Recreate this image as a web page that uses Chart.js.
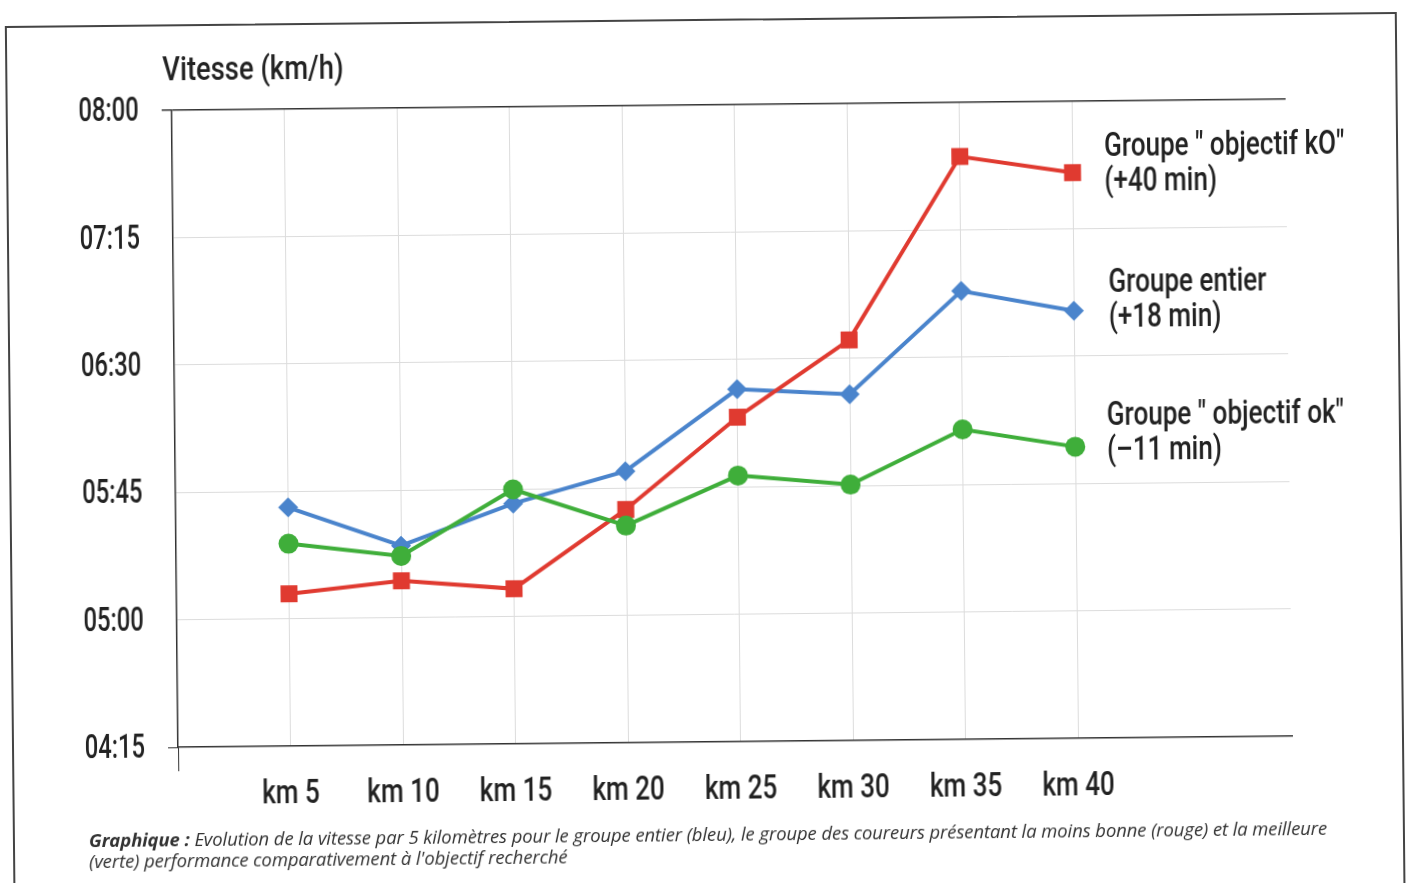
<!DOCTYPE html>
<html>
<head>
<meta charset="utf-8">
<script src="https://cdn.jsdelivr.net/npm/chart.js@4.4.1/dist/chart.umd.min.js"></script>
<style>
  html, body { margin: 0; padding: 0; background: #fff; overflow: hidden; }
  #page {
    position: absolute; left: 0; top: 0; width: 1406px; height: 883px;
    transform: rotate(-0.57deg); transform-origin: 703px 441px;
  }
  #frame {
    position: absolute; left: 9px; top: 19px; width: 1388px; height: 1000px;
    border: 2px solid #444;
  }
  canvas { position: absolute; left: 0; top: 0; }
  .txt {
    position: absolute; color: #222; white-space: nowrap;
    font-family: Roboto, sans-serif; font-weight: 500;
    font-size: 33px; line-height: 35px;
    transform: scaleX(0.79); transform-origin: 0 0;
  }
  #caption {
    position: absolute; left: 85px; top: 823px; color: #333; white-space: nowrap;
    font-family: 'Open Sans', sans-serif; font-style: italic; font-size: 18.5px; line-height: 21px;
    letter-spacing: -0.1px;
  }
</style>
</head>
<body>
<div id="page">
  <div id="frame"></div>
  <canvas id="chart" width="1406" height="883"></canvas>
  <div class="txt" style="left:166px; top:46px; transform: scaleX(0.83);">Vitesse (km/h)</div>
  <div class="txt" style="left:1107px; top:131px;">Groupe " objectif kO"<br>(+40 min)</div>
  <div class="txt" style="left:1110px; top:267px;">Groupe entier<br>(+18 min)</div>
  <div class="txt" style="left:1107px; top:400px;">Groupe " objectif ok"<br>(–11 min)</div>
  <div id="caption"><b>Graphique :</b> Evolution de la vitesse par 5 kilomètres pour le groupe entier (bleu), le groupe des coureurs présentant la moins bonne (rouge) et la meilleure<br>(verte) performance comparativement à l'objectif recherché</div>
</div>
<script>
// km marks along the course
const kms = [5, 10, 15, 20, 25, 30, 35, 40];
// values in minutes, shown as hh:mm on the axis
const groupeEntier = [339.3, 325.4, 339.9, 350.9, 379.5, 377.3, 413.4, 406.0];
const groupeKO     = [308.8, 313.0, 309.8, 337.4, 369.6, 396.5, 460.9, 454.8];
const groupeOK     = [326.5, 321.8, 344.9, 331.7, 349.0, 345.4, 364.5, 358.0];
const yTicks = [255, 300, 345, 390, 435, 480];

const FONT = "500 33px Roboto, sans-serif";

function toPoints(vals) {
    return kms.map((k, i) => ({ x: k, y: vals[i] }));
}

function fmt(v) {
    const h = Math.floor(v / 60);
    const m = Math.round(v - h * 60);
    return String(h).padStart(2, '0') + ':' + String(m).padStart(2, '0');
}

// tick labels drawn narrow, like the condensed font of the original
const narrowLabels = {
    id: 'narrowLabels',
    afterDraw(chart) {
        const ctx = chart.ctx;
        const xs = chart.scales.x, ys = chart.scales.y;
        ctx.save();
        ctx.fillStyle = '#222';
        ctx.font = FONT;
        ctx.textBaseline = 'middle';
        ys.ticks.forEach(t => {
            const py = ys.getPixelForValue(t.value);
            ctx.save();
            ctx.translate(ys.right - 33, py + 2);
            ctx.scale(0.72, 1);
            ctx.textAlign = 'right';
            ctx.fillText(fmt(t.value), 0, 0);
            ctx.restore();
        });
        kms.forEach(k => {
            const px = xs.getPixelForValue(k);
            ctx.save();
            ctx.translate(px, xs.top + 49);
            ctx.scale(0.79, 1);
            ctx.textAlign = 'center';
            ctx.fillText('km ' + k, 0, 0);
            ctx.restore();
        });
        ctx.restore();
    }
};

new Chart(document.getElementById('chart').getContext('2d'), {
    type: 'line',
    data: {
        datasets: [
            {
                label: 'Groupe "objectif ok"',
                data: toPoints(groupeOK),
                borderColor: '#3fae3a',
                backgroundColor: '#3fae3a',
                borderWidth: 4,
                pointStyle: 'circle',
                pointRadius: 10,
                pointBorderWidth: 0
            },
            {
                label: 'Groupe "objectif kO"',
                data: toPoints(groupeKO),
                borderColor: '#e03a30',
                backgroundColor: '#e03a30',
                borderWidth: 4,
                pointStyle: 'rect',
                pointRadius: 12,
                pointBorderWidth: 0
            },
            {
                label: 'Groupe entier',
                data: toPoints(groupeEntier),
                borderColor: '#4a84cc',
                backgroundColor: '#4a84cc',
                borderWidth: 4,
                pointStyle: 'rectRot',
                pointRadius: 10,
                pointBorderWidth: 0
            }
        ]
    },
    options: {
        responsive: false,
        animation: false,
        layout: { padding: { left: 0, top: 105, right: 117, bottom: 0 } },
        plugins: { legend: { display: false }, tooltip: { enabled: false } },
        scales: {
            x: {
                type: 'linear',
                min: 0,
                max: 49.5,
                afterFit: s => { s.height = 141; },
                border: { display: true, color: '#333', width: 1.5 },
                grid: {
                    color: c => (c.tick && c.tick.value >= 5 && c.tick.value <= 40) ? '#dcdcdc' : 'rgba(0,0,0,0)',
                    tickColor: c => (c.tick && c.tick.value === 0) ? '#333' : 'rgba(0,0,0,0)',
                    tickLength: 24,
                    lineWidth: 1
                },
                ticks: { stepSize: 5, autoSkip: false, display: false }
            },
            y: {
                min: 255,
                max: 480,
                afterFit: s => { s.width = 175; },
                afterBuildTicks: s => { s.ticks = yTicks.map(v => ({ value: v })); },
                border: { display: true, color: '#333', width: 1.5 },
                grid: {
                    color: c => {
                        const v = c.tick && c.tick.value;
                        if (v === 480) return '#333';
                        if (v === 255) return 'rgba(0,0,0,0)';
                        return '#dcdcdc';
                    },
                    tickColor: c => {
                        const v = c.tick && c.tick.value;
                        return (v === 480 || v === 255) ? '#333' : 'rgba(0,0,0,0)';
                    },
                    lineWidth: c => (c.tick && c.tick.value === 480) ? 1.5 : 1,
                    tickLength: 10
                },
                ticks: { display: false }
            }
        }
    },
    plugins: [narrowLabels]
});
</script>
</body>
</html>
